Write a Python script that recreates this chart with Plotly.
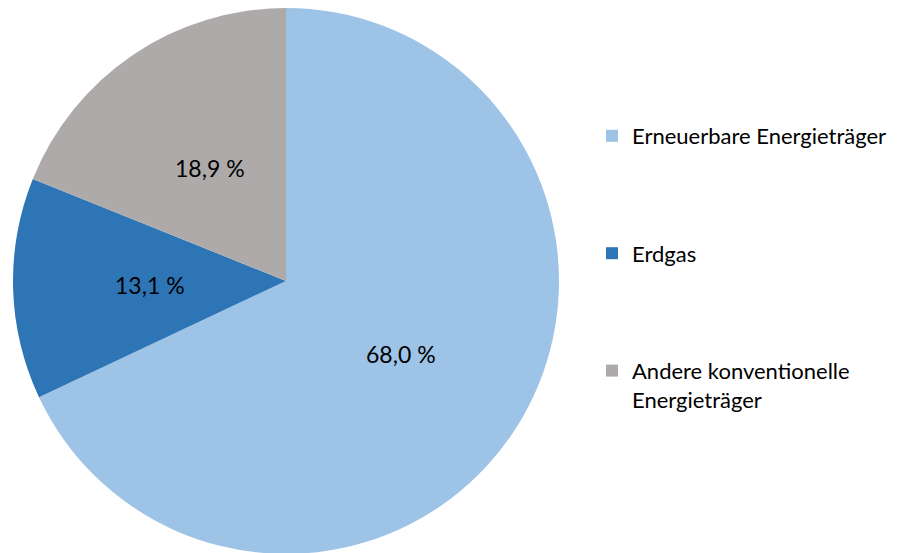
import math
import plotly.graph_objects as go

labels = ["Erneuerbare Energieträger", "Erdgas", "Andere konventionelle<br>Energieträger"]
values = [68.0, 13.1, 18.9]
text_labels = ["68,0 %", "13,1 %", "18,9 %"]
colors = ["#9DC3E6", "#2E75B6", "#AEAAAA"]

W, H = 902, 553
OFF = 7            # page offset compensation (px)
cx, cy, r = 285 - OFF, 280 - OFF, 273   # pie geometry in figure px
FONT = "Lato"
FS_LABEL = 23
FS_LEGEND = 22

legend_labels = [labels[0] + "<br> <br> <br> ", labels[1] + "<br> <br> <br> ", labels[2]]

fig = go.Figure(go.Pie(
    labels=legend_labels,
    values=values,
    textinfo="none",
    sort=False,
    direction="clockwise",
    rotation=0,
    marker=dict(colors=colors, line=dict(width=0)),
    domain=dict(x=[(cx - r) / W, (cx + r) / W], y=[1 - (cy + r) / H, 1 - (cy - r) / H]),
    hoverinfo="label+percent",
))

# data labels at half radius along each slice bisector
total = sum(values)
acc = 0.0
annotations = []
for v, t in zip(values, text_labels):
    mid = (acc + v / 2) / total * 2 * math.pi
    acc += v
    px = cx + 0.5 * r * math.sin(mid)
    py = cy - 0.5 * r * math.cos(mid)
    annotations.append(dict(x=px / W, y=1 - py / H, xref="paper", yref="paper",
                            xanchor="center", yanchor="middle",
                            text=t, showarrow=False,
                            font=dict(family=FONT, size=FS_LABEL, color="#000000")))

fig.update_layout(
    width=W, height=H,
    margin=dict(l=0, r=0, t=0, b=0),
    paper_bgcolor="white",
    font=dict(family=FONT, size=FS_LEGEND, color="#000000"),
    showlegend=True,
    annotations=annotations,
    legend=dict(x=584 / W, y=1 - 107 / H, xanchor="left", yanchor="top",
                valign="top", traceorder="normal", bgcolor="rgba(0,0,0,0)",
                font=dict(family=FONT, size=FS_LEGEND, color="#000000")),
)

fig.write_html("out.html")
